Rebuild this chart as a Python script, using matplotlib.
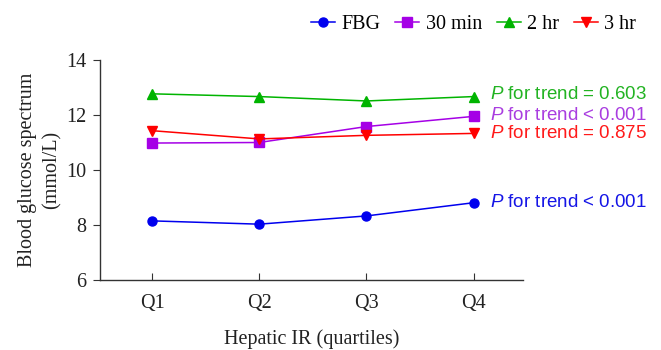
import matplotlib
matplotlib.use('Agg')
import matplotlib.pyplot as plt
import numpy as np

# DATA
quartiles = ['Q1', 'Q2', 'Q3', 'Q4']
fbg = [8.15, 8.03, 8.33, 8.81]
min30 = [10.98, 11.00, 11.58, 11.95]
hr2 = [12.77, 12.67, 12.51, 12.67]
hr3 = [11.43, 11.13, 11.26, 11.33]
trend_labels = ['< 0.001', '< 0.001', '= 0.603', '= 0.875']

series = [
    ('FBG', fbg, '#0000ee', 'o'),
    ('30 min', min30, '#a500e6', 's'),
    ('2 hr', hr2, '#00b400', '^'),
    ('3 hr', hr3, '#ff0000', 'v'),
]
text_colors = ['#1515e6', '#a93de0', '#22b322', '#ff1a1a']
text_y = [8.81, 11.97, 12.75, 11.33]

plt.rcParams['mathtext.fontset'] = 'custom'
plt.rcParams['mathtext.it'] = 'Liberation Sans:italic'
plt.rcParams['mathtext.rm'] = 'Liberation Sans'

serif = ['Liberation Serif', 'DejaVu Serif']
sans = ['Liberation Sans', 'DejaVu Sans']
fs = 14.5

fig = plt.figure(figsize=(6.61, 3.5), dpi=100)
ax = fig.add_axes([0.1513, 0.2, 0.6399, 0.6286])

x = np.arange(1, len(quartiles) + 1)
lines = []
for name, vals, col, mk in series:
    ln, = ax.plot(x, vals, color=col, marker=mk, markersize=6.5, linewidth=1.1,
                  label=name)
    lines.append(ln)

# P for trend annotations
for i, (name, vals, col, mk) in enumerate(series):
    ax.text(4.15, text_y[i], '$P$ for trend ' + trend_labels[i],
            color=text_colors[i], fontsize=13.5, family=sans, va='center', ha='left',
            clip_on=False)

ax.set_xlim(0.515, 4.46)
ax.set_ylim(6, 14)
ax.set_yticks([6, 8, 10, 12, 14])
ax.set_xticks(x)
ax.set_xticklabels(quartiles)
ax.spines['top'].set_visible(False)
ax.spines['right'].set_visible(False)
for s in ['left', 'bottom']:
    ax.spines[s].set_color('#333333')
    ax.spines[s].set_linewidth(1.0)
ax.tick_params(axis='y', direction='out', length=5, color='#333333', labelsize=fs, pad=5)
ax.tick_params(axis='x', direction='in', length=5, color='#333333', labelsize=fs, pad=10)
for lab in ax.get_xticklabels() + ax.get_yticklabels():
    lab.set_family(serif)
    lab.set_color('#222222')

ax.set_xlabel('Hepatic IR (quartiles)', fontsize=fs, family=serif, color='#222222', labelpad=12)
ax.set_ylabel('Blood glucose spectrum\n(mmol/L)', fontsize=fs, family=serif, color='#222222',
              labelpad=3, linespacing=1.35)

fig.legend(handles=lines, loc='upper right', bbox_to_anchor=(0.99, 1.01), ncol=4, frameon=False,
           prop={'family': serif, 'size': fs}, handlelength=1.2, columnspacing=0.75,
           handletextpad=0.3)

fig.savefig('out.png', dpi=100)
